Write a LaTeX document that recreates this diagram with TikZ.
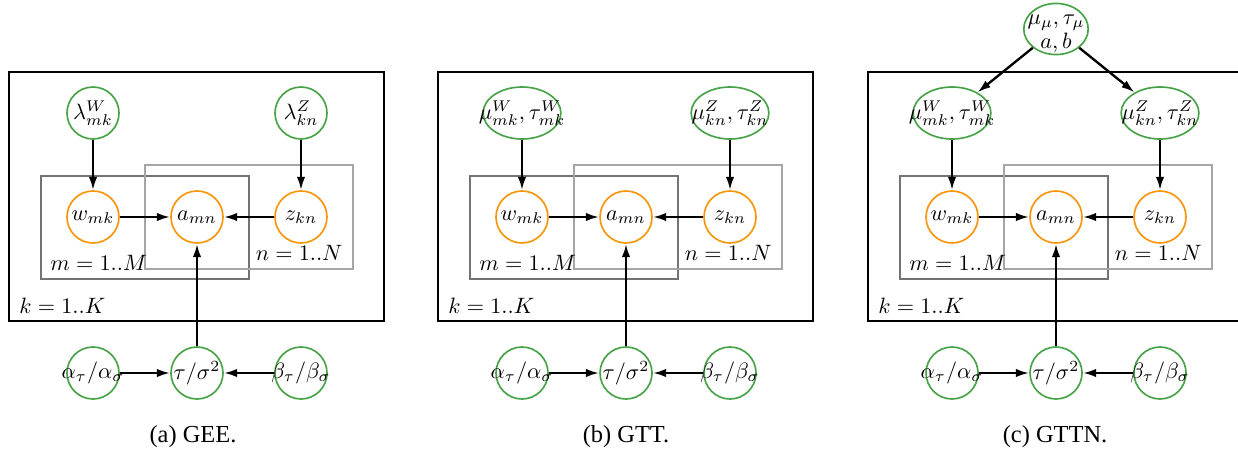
\documentclass[tikz,border=0pt]{standalone}
\usepackage{fontspec}
\setmainfont{Liberation Serif}
\usetikzlibrary{arrows.meta,shapes.geometric}

\definecolor{hypgreen}{RGB}{72,163,72}
\definecolor{latorange}{RGB}{247,150,10}

% text with no width, so the shape keeps its own size
\newcommand{\nodetxt}[1]{\makebox[0pt]{$#1$}}

\begin{document}
\begin{tikzpicture}[x=0.45pt,y=-0.45pt,
  hyper/.style={circle,draw=hypgreen,line width=0.75pt,minimum size=23.4pt,inner sep=0pt},
  hypell/.style={ellipse,draw=hypgreen,line width=0.75pt,minimum width=35pt,minimum height=23.4pt,inner sep=0pt},
  latent/.style={circle,draw=latorange,line width=0.75pt,minimum size=23.4pt,inner sep=0pt},
  arr/.style={-{Latex[length=6pt,width=3.8pt]},line width=1.05pt},
  plateK/.style={draw=black,line width=0.9pt},
  plateM/.style={draw=black!55,line width=0.75pt},
  plateN/.style={draw=black!35,line width=0.75pt},
  lbl/.style={inner sep=0pt},
  capt/.style={inner sep=0pt,font=\fontsize{11}{13}\selectfont}]
\useasboundingbox (0,0) rectangle (1238,451);

% (a) GEE
\begin{scope}
\draw[plateK] (9,72) rectangle (384,321);
\draw[plateM] (41,176) rectangle (249,279);
\draw[plateN] (145,165) rectangle (353,269);
\node[lbl,anchor=west] (kA) at (19,306) {$k=1..K$};
\node[lbl,anchor=west] (mA) at (50,263) {$m=1..M$};
\node[lbl,anchor=east] (nA) at (343,253) {$n=1..N$};
\node[hyper] (lamWA) at (93,113) {\nodetxt{\lambda^W_{mk}}};
\node[hyper] (lamZA) at (301,113) {\nodetxt{\lambda^Z_{kn}}};
\node[latent] (wA) at (93,217) {\nodetxt{w_{mk}}};
\node[latent] (amnA) at (197,217) {\nodetxt{a_{mn}}};
\node[latent] (zA) at (301,217) {\nodetxt{z_{kn}}};
\node[hyper] (alA) at (93,373) {\nodetxt{\alpha_\tau/\alpha_\sigma}};
\node[hyper] (tauA) at (197,373) {\nodetxt{\tau/\sigma^2}};
\node[hyper] (beA) at (301,373) {\nodetxt{\beta_\tau/\beta_\sigma}};
\draw[arr] (lamWA) -- (wA);
\draw[arr] (lamZA) -- (zA);
\draw[arr] (wA) -- (amnA);
\draw[arr] (zA) -- (amnA);
\draw[arr] (tauA) -- (amnA);
\draw[arr] (alA) -- (tauA);
\draw[arr] (beA) -- (tauA);
\node[capt] (captA) at (193,437) {(a) GEE.};
\end{scope}

% (b) GTT
\begin{scope}[shift={(429,0)}]
\draw[plateK] (9,72) rectangle (384,321);
\draw[plateM] (41,176) rectangle (249,279);
\draw[plateN] (145,165) rectangle (353,269);
\node[lbl,anchor=west] (kB) at (19,306) {$k=1..K$};
\node[lbl,anchor=west] (mB) at (50,263) {$m=1..M$};
\node[lbl,anchor=east] (nB) at (343,253) {$n=1..N$};
\node[hypell] (muWB) at (93,113) {\nodetxt{\mu^W_{mk},\tau^W_{mk}}};
\node[hypell] (muZB) at (301,113) {\nodetxt{\mu^Z_{kn},\tau^Z_{kn}}};
\node[latent] (wB) at (93,217) {\nodetxt{w_{mk}}};
\node[latent] (amnB) at (197,217) {\nodetxt{a_{mn}}};
\node[latent] (zB) at (301,217) {\nodetxt{z_{kn}}};
\node[hyper] (alB) at (93,373) {\nodetxt{\alpha_\tau/\alpha_\sigma}};
\node[hyper] (tauB) at (197,373) {\nodetxt{\tau/\sigma^2}};
\node[hyper] (beB) at (301,373) {\nodetxt{\beta_\tau/\beta_\sigma}};
\draw[arr] (muWB) -- (wB);
\draw[arr] (muZB) -- (zB);
\draw[arr] (wB) -- (amnB);
\draw[arr] (zB) -- (amnB);
\draw[arr] (tauB) -- (amnB);
\draw[arr] (alB) -- (tauB);
\draw[arr] (beB) -- (tauB);
\node[capt] (captB) at (197,437) {(b) GTT.};
\end{scope}

% (c) GTTN
\begin{scope}[shift={(859,0)}]
\draw[plateK] (9,72) rectangle (384,321);
\draw[plateM] (41,176) rectangle (249,279);
\draw[plateN] (145,165) rectangle (353,269);
\node[lbl,anchor=west] (kC) at (19,306) {$k=1..K$};
\node[lbl,anchor=west] (mC) at (50,263) {$m=1..M$};
\node[lbl,anchor=east] (nC) at (343,253) {$n=1..N$};
\node[hypell,minimum width=29pt,minimum height=23pt] (topC) at (197,29) {};
\node[lbl,align=center] (topCtxt) at (197,34) {$\mu_\mu,\tau_\mu$\\[-1pt]$a,b$};
\node[hypell] (muWC) at (93,113) {\nodetxt{\mu^W_{mk},\tau^W_{mk}}};
\node[hypell] (muZC) at (301,113) {\nodetxt{\mu^Z_{kn},\tau^Z_{kn}}};
\node[latent] (wC) at (93,217) {\nodetxt{w_{mk}}};
\node[latent] (amnC) at (197,217) {\nodetxt{a_{mn}}};
\node[latent] (zC) at (301,217) {\nodetxt{z_{kn}}};
\node[hyper] (alC) at (93,373) {\nodetxt{\alpha_\tau/\alpha_\sigma}};
\node[hyper] (tauC) at (197,373) {\nodetxt{\tau/\sigma^2}};
\node[hyper] (beC) at (301,373) {\nodetxt{\beta_\tau/\beta_\sigma}};
\draw[arr] (topC) -- (muWC);
\draw[arr] (topC) -- (muZC);
\draw[arr] (muWC) -- (wC);
\draw[arr] (muZC) -- (zC);
\draw[arr] (wC) -- (amnC);
\draw[arr] (zC) -- (amnC);
\draw[arr] (tauC) -- (amnC);
\draw[arr] (alC) -- (tauC);
\draw[arr] (beC) -- (tauC);
\node[capt] (captC) at (196,437) {(c) GTTN.};
\end{scope}
\end{tikzpicture}
\end{document}
